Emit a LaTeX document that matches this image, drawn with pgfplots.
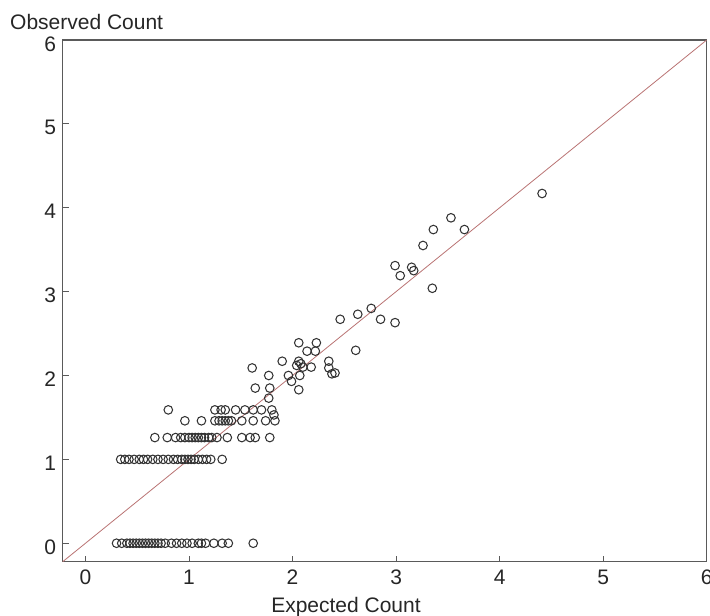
\documentclass[border=0pt]{standalone}
\usepackage{pgfplots}
\pgfplotsset{compat=1.18}
\usepackage{fontspec}
\setmainfont{Liberation Sans}
\definecolor{diag}{RGB}{185,115,115}
\definecolor{axgray}{RGB}{90,90,90}
\begin{document}
\begin{tikzpicture}
\begin{axis}[name=ax, scale only axis, width=644pt, height=521.7pt,
  xmin=-0.22, xmax=6, ymin=-0.22, ymax=6,
  xtick={0,1,2,3,4,5,6}, ytick={0,1,2,3,4,5,6},
  tick pos=left, tick align=inside, major tick length=6pt,
  axis line style={draw=axgray, line width=1.3pt},
  tick style={draw=axgray, line width=1pt},
  ticklabel style={font=\fontsize{21}{24}\selectfont, text=black!85},
  /pgf/number format/assume math mode=true,
  xticklabel style={yshift=-5pt},
  yticklabel style={inner sep=0pt, xshift=-6.5pt, yshift=-4pt},
  clip=true]
\addplot[draw=diag, line width=0.8pt] coordinates {(-0.22,-0.22) (6,6)};
\addplot[only marks, mark=o, mark size=4.3pt, mark options={line width=1.05pt, draw=black!80}] table {
x y
0.30 0
0.35 0
0.40 0
0.43 0
0.46 0
0.49 0
0.52 0
0.55 0
0.58 0
0.61 0
0.64 0
0.67 0
0.70 0
0.73 0
0.77 0
0.83 0
0.88 0
0.93 0
0.98 0
1.03 0
1.09 0
1.12 0
1.16 0
1.24 0
1.32 0
1.38 0
1.62 0
0.34 1
0.38 1
0.42 1
0.47 1
0.52 1
0.56 1
0.60 1
0.65 1
0.70 1
0.75 1
0.80 1
0.85 1
0.89 1
0.93 1
0.96 1
0.99 1
1.02 1
1.05 1
1.09 1
1.13 1
1.17 1
1.21 1
1.32 1
0.67 1.26
0.79 1.26
0.87 1.26
0.92 1.26
0.96 1.26
1.00 1.26
1.03 1.26
1.06 1.26
1.09 1.26
1.12 1.26
1.15 1.26
1.19 1.26
1.22 1.26
1.27 1.26
1.37 1.26
1.51 1.26
1.59 1.26
1.64 1.26
1.78 1.26
0.96 1.46
1.12 1.46
1.25 1.46
1.29 1.46
1.32 1.46
1.35 1.46
1.38 1.46
1.41 1.46
1.51 1.46
1.62 1.46
1.74 1.46
1.83 1.46
0.80 1.59
1.25 1.59
1.31 1.59
1.35 1.59
1.45 1.59
1.54 1.59
1.62 1.59
1.70 1.59
1.80 1.59
1.82 1.53
1.77 1.73
1.64 1.85
1.78 1.85
2.06 1.83
1.99 1.93
1.77 2.00
1.96 2.00
2.07 2.00
1.61 2.09
1.90 2.17
2.06 2.17
2.08 2.14
2.10 2.10
2.04 2.12
2.18 2.10
2.14 2.29
2.22 2.29
2.06 2.39
2.23 2.39
2.61 2.30
2.35 2.17
2.35 2.09
2.41 2.03
2.38 2.02
2.46 2.67
2.63 2.73
2.76 2.80
2.85 2.67
2.99 2.63
2.99 3.31
3.04 3.19
3.15 3.29
3.17 3.25
3.35 3.04
3.26 3.55
3.36 3.74
3.53 3.88
3.66 3.74
4.41 4.17
};
\end{axis}
\node[anchor=base, font=\fontsize{21}{24}\selectfont, text=black!85] at ([xshift=283.3pt, yshift=-51pt]ax.south west) {Expected Count};
\node[anchor=base west, inner sep=0pt, font=\fontsize{21}{24}\selectfont, text=black!85] at ([xshift=-52.7pt, yshift=10.5pt]ax.north west) {Observed Count};
\pgfresetboundingbox
\useasboundingbox ([xshift=-62.7pt, yshift=-54.3pt]ax.south west) rectangle ([xshift=3.3pt, yshift=40pt]ax.north east);
\end{tikzpicture}
\end{document}
